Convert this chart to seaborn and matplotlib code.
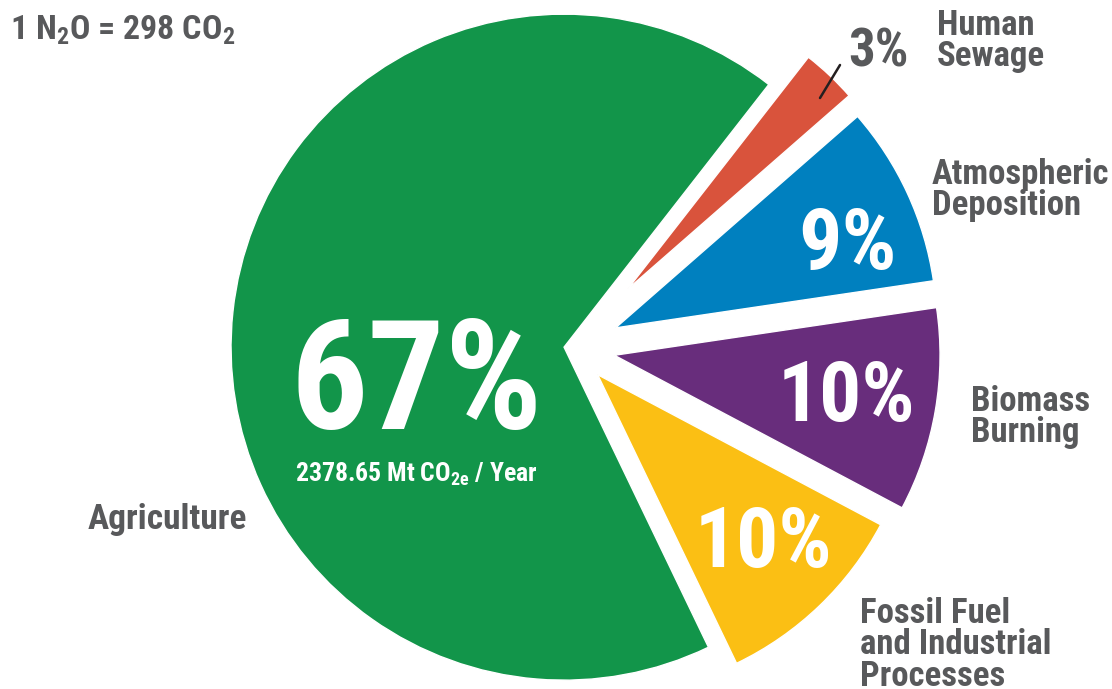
import matplotlib
matplotlib.use("Agg")
import matplotlib.pyplot as plt
from matplotlib import font_manager as fm
import seaborn as sns

# data, counter-clockwise from the bottom edge of the yellow slice
sources = ["Fossil Fuel\nand Industrial\nProcesses", "Biomass\nBurning",
           "Atmospheric\nDeposition", "Human\nSewage", "Agriculture"]
shares = [10, 10, 9, 3, 67]
pct_labels = ["10%", "10%", "9%", "3%", "67%"]
total_note = "2378.65 Mt CO$_{2e}$ / Year"
header = "1 N$_2$O = 298 CO$_2$"

# styles
colors = ["#FBBF14", "#682D7C", "#0080BF", "#D9533C", "#12954A"]
explode_px = [37, 43, 48, 81, 8]          # pie() explode is in data units (= pixels here)
radius_scale = [0.962, 0.978, 0.965, 0.883, 1.0]
gray = "#58595B"

# pick the narrowest bold sans that is installed
fonts = fm.fontManager.ttflist
names = {f.name for f in fonts}
stretch = "normal"
if "Roboto Condensed" in names:
    fam = "Roboto Condensed"
elif "Liberation Sans Narrow" in names:
    fam = "Liberation Sans Narrow"
elif any(f.name == "DejaVu Sans" and f.stretch == "condensed" for f in fonts):
    fam, stretch = "DejaVu Sans", "condensed"
else:
    fam = "Roboto"

sns.set_theme(style="white")
plt.rcParams["font.family"] = [fam, "DejaVu Sans"]
plt.rcParams["font.weight"] = "bold"
plt.rcParams["font.stretch"] = stretch
plt.rcParams["mathtext.fontset"] = "custom"
plt.rcParams["mathtext.rm"] = fam + ":bold" + (":condensed" if stretch == "condensed" else "")
plt.rcParams["mathtext.default"] = "rm"

W, H = 1112, 689
R = 333
fig = plt.figure(figsize=(W / 100, H / 100), dpi=100)
ax = fig.add_axes([0, 0, 1, 1])

wedges, _ = ax.pie(shares, colors=sns.color_palette(colors), explode=explode_px,
                   startangle=-64.3, counterclock=True, radius=R,
                   center=(572, H - 348), frame=False)
for w, s in zip(wedges, radius_scale):
    w.set_radius(R * s)

ax.set_xlim(0, W)
ax.set_ylim(0, H)
ax.set_aspect("equal")
ax.axis("off")


def put(x, y, s, **kw):
    # x, y in picture pixels (y from the top)
    ax.text(x, H - y, s, fontweight="bold", fontstretch=stretch, **kw)


# percentages inside the slices
put(417, 388, pct_labels[4], color="white", fontsize=110, ha="center", va="center")
put(848, 245, pct_labels[2], color="white", fontsize=62, ha="center", va="center")
put(846, 398, pct_labels[1], color="white", fontsize=60, ha="center", va="center")
put(763, 545, pct_labels[0], color="white", fontsize=60, ha="center", va="center")
put(416, 474, total_note, color="white", fontsize=18.5, ha="center", va="center")

# outside labels
put(879, 52, pct_labels[3], color=gray, fontsize=38, ha="center", va="center")
ax.plot([820, 840], [H - 98, H - 65], color="#231F20", lw=1.8, solid_capstyle="round")
put(937, 41, sources[3], color=gray, fontsize=25, ha="left", va="center", linespacing=0.95)
put(932, 190, sources[2], color=gray, fontsize=25, ha="left", va="center", linespacing=0.95)
put(971, 417, sources[1], color=gray, fontsize=25, ha="left", va="center", linespacing=0.95)
put(860, 645, sources[0], color=gray, fontsize=25, ha="left", va="center", linespacing=0.95)
put(88, 520, sources[4], color=gray, fontsize=25.5, ha="left", va="center")
put(10, 30, header, color=gray, fontsize=24.5, ha="left", va="center")

fig.savefig("out.png", dpi=100)
